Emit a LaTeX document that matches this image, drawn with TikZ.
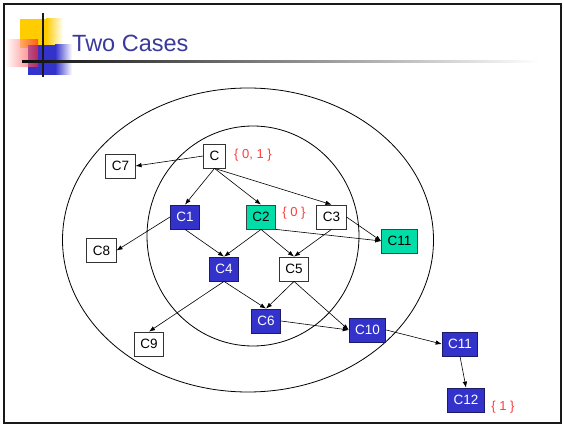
\documentclass[tikz,border=0pt]{standalone}
\usepackage{fontspec}
\setmainfont{Liberation Sans}
\usetikzlibrary{arrows.meta}
\definecolor{titleblue}{HTML}{3A3A9E}
\definecolor{pickfill}{HTML}{3333CC}
\definecolor{pickdraw}{HTML}{1C1C66}
\definecolor{sharefill}{HTML}{00DDA8}
\definecolor{tagred}{HTML}{FF3B3B}
\definecolor{deckyellow}{HTML}{FFCC00}
\definecolor{deckred}{HTML}{FF2020}
\tikzset{
  classbox/.style={
    draw=black!80,
    line width=0.8pt,
    fill=white,
    font=\fontsize{13.5}{15}\selectfont,
    inner xsep=6pt,
    inner ysep=0pt,
    minimum height=24pt,
    minimum width=21pt
  },
  chosen/.style={fill=pickfill, draw=pickdraw, text=white},
  shared/.style={fill=sharefill, draw=black!75},
  setlabel/.style={font=\fontsize{13}{15}\selectfont, text=tagred, inner sep=0pt},
  depedge/.style={line width=0.6pt, draw=black, -{Latex[length=6pt,width=4.5pt]}},
  ring/.style={line width=0.8pt, draw=black},
  title/.style={font=\fontsize{23.5}{28}\selectfont, text=titleblue, anchor=base west, inner sep=0pt}
}

\begin{document}
\begin{tikzpicture}[x=1pt,y=-1pt]
\useasboundingbox (0,0) rectangle (564,427);
\fill[white] (0,0) rectangle (564,427);

% slide heading
\fill[deckyellow] (20,19) rectangle (46,48);
\shade[left color=deckyellow, right color=white] (46,19) rectangle (63,48);
\fill[pickfill] (28,45) rectangle (55,75);
\shade[left color=pickfill, right color=white] (55,45) rectangle (72,75);
\shade[left color=white, right color=deckred, opacity=0.65] (5,40) rectangle (38,67);
\shade[left color=black!95, right color=white] (22,61) rectangle (540,63);
\fill[black!90] (42,13) rectangle (44,77);
\node[title] (title) at (72,52) {Two Cases};

% the two scopes
\draw[ring] (248,240) ellipse [x radius=185.5, y radius=152];
\draw[ring] (253,236) ellipse [x radius=106, y radius=110];

\node[classbox] (c) at (214.5,156) {C};
\node[classbox] (c7) at (120.5,166) {C7};
\node[classbox, chosen] (c1) at (185,217) {C1};
\node[classbox, shared] (c2) at (261,217) {C2};
\node[classbox] (c3) at (331.5,217) {C3};
\node[classbox, shared] (c11g) at (399.5,241) {C11};
\node[classbox] (c8) at (101.5,250.5) {C8};
\node[classbox, chosen] (c4) at (224,269) {C4};
\node[classbox] (c5) at (294,269) {C5};
\node[classbox, chosen] (c6) at (266,321) {C6};
\node[classbox, chosen] (c10) at (367.5,330) {C10};
\node[classbox] (c9) at (149,344) {C9};
\node[classbox, chosen] (c11) at (460,344) {C11};
\node[classbox, chosen] (c12) at (466,400) {C12};

\node[setlabel] (setc) at (253,155) {\{ 0, 1 \}};
\node[setlabel] (setc2) at (294,213) {\{ 0 \}};
\node[setlabel] (setc12) at (503,407) {\{ 1 \}};

\draw[depedge] (c.west) -- (c7.east);
\draw[depedge] (c.south) -- (c1.north);
\draw[depedge] (c.south) -- (c2.north);
\draw[depedge] (c.south) -- (c3.north);
\draw[depedge] (c1.west) -- (c8.east);
\draw[depedge] (c1.south) -- (c4.north);
\draw[depedge] (c2.south) -- (c4.north);
\draw[depedge] (c2.south) -- (c5.north);
\draw[depedge] (c2.south east) -- (c11g.west);
\draw[depedge] (c3.south) -- (c5.north);
\draw[depedge] (c3.east) -- (c11g.west);
\draw[depedge] (c4.south) -- (c9.north);
\draw[depedge] (c4.south) -- (c6.north);
\draw[depedge] (c5.south) -- (c6.north);
\draw[depedge] (c5.south) -- (c10.west);
\draw[depedge] (c6.east) -- (c10.west);
\draw[depedge] (c10.east) -- (c11.west);
\draw[depedge] (c11.south) -- (c12.north);

% slide frame
\draw[line width=2pt, black!90] (4,4) rectangle (561,423);
\end{tikzpicture}
\end{document}
